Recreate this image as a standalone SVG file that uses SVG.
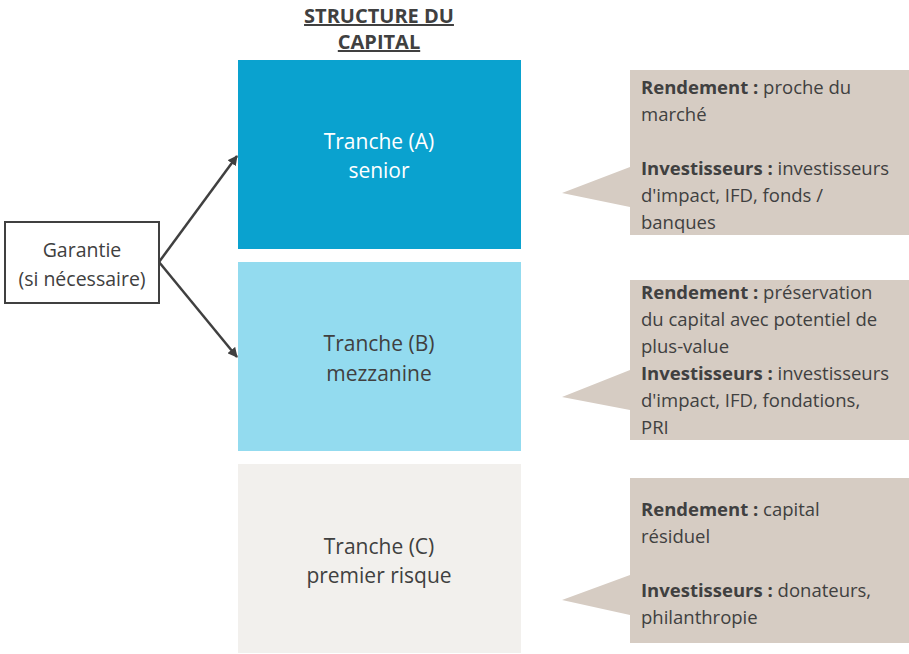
<svg xmlns="http://www.w3.org/2000/svg" width="909" height="654" viewBox="0 0 909 654">
<style>
text{font-family:"Open Sans","Noto Sans",sans-serif;fill:#404040;font-size:18.5px}
.t{font-size:21px;text-anchor:middle}
.g{font-size:19.5px;text-anchor:middle}
.b{font-weight:bold}
.title{font-weight:bold;font-size:20px;text-anchor:middle;text-decoration:underline;fill:#404040}
.call{fill:#d6ccc3}
.conn{stroke:#404040;stroke-width:2.5;fill:none;marker-end:url(#ah)}
</style>
<defs>
<marker id="ah" viewBox="0 0 10 10" refX="9" refY="5" markerWidth="4" markerHeight="4" orient="auto" markerUnits="strokeWidth">
<path d="M0,0 L10,5 L0,10 z" fill="#404040"/>
</marker>
</defs>
<rect width="909" height="654" fill="#ffffff"/>
<g id="title">
<text class="title" x="379" y="23">STRUCTURE DU</text>
<text class="title" x="379" y="49">CAPITAL</text>
</g>
<g id="trancheA">
<rect x="238" y="60" width="283" height="189" fill="#0aa2cf"/>
<text class="t" x="379" y="149" style="fill:#ffffff">Tranche (A)</text>
<text class="t" x="379" y="178" style="fill:#ffffff">senior</text>
</g>
<g id="trancheB">
<rect x="238" y="262" width="283" height="189" fill="#93dbef"/>
<text class="t" x="379" y="351">Tranche (B)</text>
<text class="t" x="379" y="381">mezzanine</text>
</g>
<g id="trancheC">
<rect x="238" y="464" width="283" height="189" fill="#f2f0ed"/>
<text class="t" x="379" y="554">Tranche (C)</text>
<text class="t" x="379" y="583">premier risque</text>
</g>
<g id="garantie">
<rect x="5" y="222" width="154" height="81" fill="#ffffff" stroke="#404040" stroke-width="2"/>
<text class="g" x="82" y="257">Garantie</text>
<text class="g" x="82" y="286">(si nécessaire)</text>
</g>
<g id="connectors">
<line class="conn" x1="159" y1="262" x2="237" y2="156"/>
<line class="conn" x1="159" y1="262" x2="237" y2="357"/>
</g>
<g id="calloutA">
<path class="call" d="M630,70 H909 V235 H630 V207 L562,193 L630,167 Z"/>
<text x="641" y="94"><tspan class="b">Rendement :</tspan> proche du</text>
<text x="641" y="121">marché</text>
<text x="641" y="175"><tspan class="b">Investisseurs :</tspan> investisseurs</text>
<text x="641" y="202">d'impact, IFD, fonds /</text>
<text x="641" y="229">banques</text>
</g>
<g id="calloutB">
<path class="call" d="M630,280 H909 V440 H630 V410 L562,397 L630,370 Z"/>
<text x="641" y="299"><tspan class="b">Rendement :</tspan> préservation</text>
<text x="641" y="326">du capital avec potentiel de</text>
<text x="641" y="353">plus-value</text>
<text x="641" y="380"><tspan class="b">Investisseurs :</tspan> investisseurs</text>
<text x="641" y="407">d'impact, IFD, fondations,</text>
<text x="641" y="434">PRI</text>
</g>
<g id="calloutC">
<path class="call" d="M630,478 H909 V643 H630 V615 L562,600 L630,575 Z"/>
<text x="641" y="516"><tspan class="b">Rendement :</tspan> capital</text>
<text x="641" y="543">résiduel</text>
<text x="641" y="597"><tspan class="b">Investisseurs :</tspan> donateurs,</text>
<text x="641" y="624">philanthropie</text>
</g>
</svg>
